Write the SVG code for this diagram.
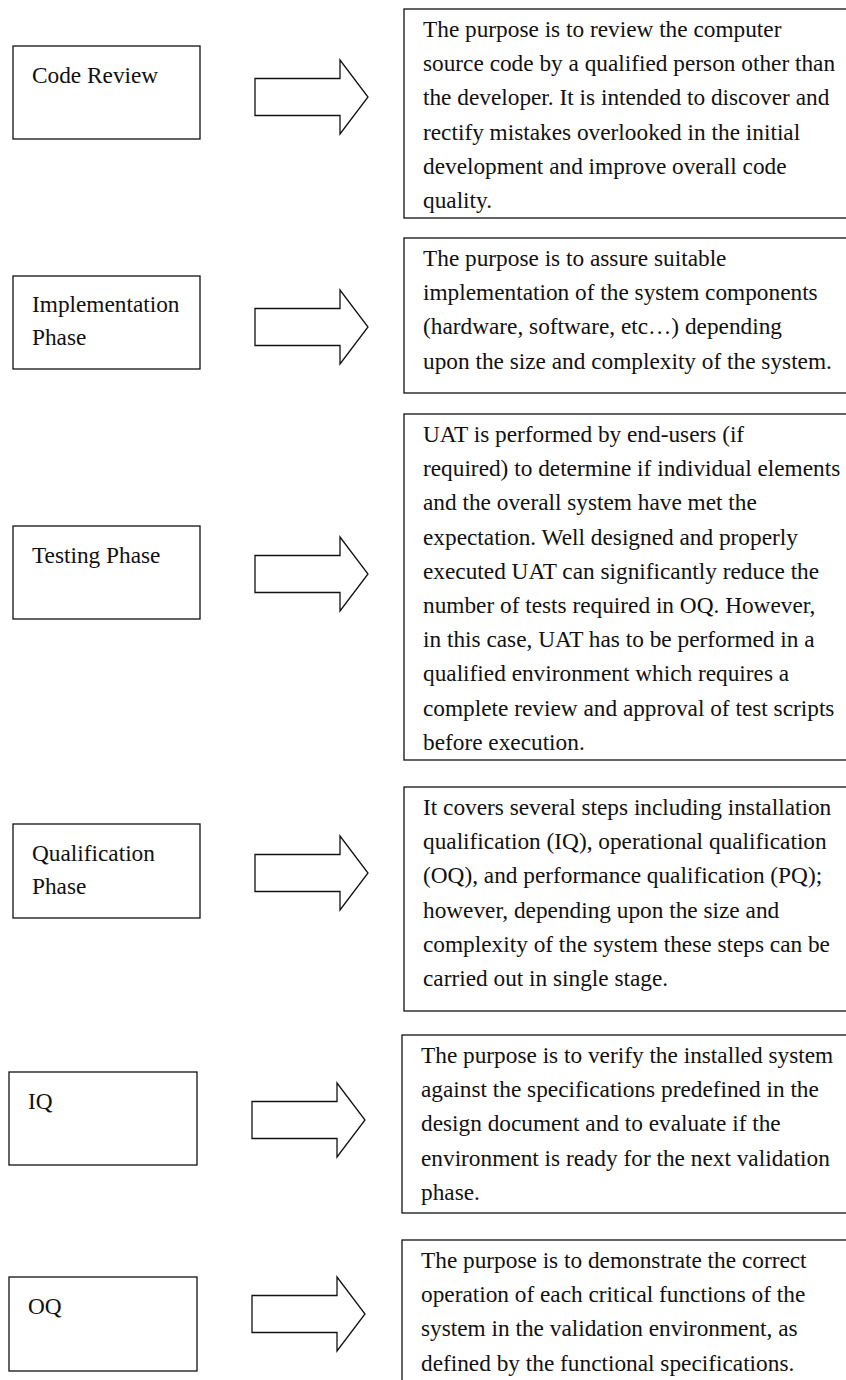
<svg xmlns="http://www.w3.org/2000/svg" width="846" height="1380" viewBox="0 0 846 1380">
<style>
.box{fill:#fff;stroke:#111;stroke-width:1.3}
.arr{fill:#fff;stroke:#111;stroke-width:1.3;stroke-linejoin:miter}
.t{font-family:"Liberation Serif","Times New Roman",serif;font-size:23.3px;fill:#111}
</style>
<rect width="846" height="1380" fill="#fff"/>
<g id="connectors">
<polygon class="arr" points="255,78.5 340,78.5 340,60 368,97 340,134 340,115.5 255,115.5"/>
<polygon class="arr" points="255,308.5 340,308.5 340,290 368,327 340,364 340,345.5 255,345.5"/>
<polygon class="arr" points="255,555.5 340,555.5 340,537 368,574 340,611 340,592.5 255,592.5"/>
<polygon class="arr" points="255,854.5 340,854.5 340,836 368,873 340,910 340,891.5 255,891.5"/>
<polygon class="arr" points="252,1101.5 337,1101.5 337,1083 365,1120 337,1157 337,1138.5 252,1138.5"/>
<polygon class="arr" points="252,1295.5 337,1295.5 337,1277 365,1314 337,1351 337,1332.5 252,1332.5"/>
</g>
<g id="code-review">
<rect class="box" x="13" y="46" width="187" height="93"/>
<text class="t" x="32" y="83">Code Review</text>
</g>
<g id="implementation-phase">
<rect class="box" x="13" y="276" width="187" height="93"/>
<text class="t" x="32" y="312">Implementation</text>
<text class="t" x="32" y="345">Phase</text>
</g>
<g id="testing-phase">
<rect class="box" x="13" y="526" width="187" height="93"/>
<text class="t" x="32" y="563">Testing Phase</text>
</g>
<g id="qualification-phase">
<rect class="box" x="13" y="824" width="187" height="94"/>
<text class="t" x="32" y="861">Qualification</text>
<text class="t" x="32" y="894">Phase</text>
</g>
<g id="iq">
<rect class="box" x="9" y="1072" width="188" height="93"/>
<text class="t" x="28" y="1109">IQ</text>
</g>
<g id="oq">
<rect class="box" x="9" y="1277" width="188" height="94"/>
<text class="t" x="28" y="1314">OQ</text>
</g>
<g id="code-review-desc">
<rect class="box" x="404" y="9" width="446" height="209"/>
<text class="t" x="423" y="37">The purpose is to review the computer<tspan x="423" dy="34.2">source code by a qualified person other than</tspan><tspan x="423" dy="34.2">the developer. It is intended to discover and</tspan><tspan x="423" dy="34.2">rectify mistakes overlooked in the initial</tspan><tspan x="423" dy="34.2">development and improve overall code</tspan><tspan x="423" dy="34.2">quality.</tspan></text>
</g>
<g id="implementation-desc">
<rect class="box" x="404" y="238" width="446" height="155"/>
<text class="t" x="423" y="266">The purpose is to assure suitable<tspan x="423" dy="34.2">implementation of the system components</tspan><tspan x="423" dy="34.2">(hardware, software, etc…) depending</tspan><tspan x="423" dy="34.2">upon the size and complexity of the system.</tspan></text>
</g>
<g id="testing-desc">
<rect class="box" x="404" y="414" width="446" height="346"/>
<text class="t" x="423" y="442">UAT is performed by end-users (if<tspan x="423" dy="34.2">required) to determine if individual elements</tspan><tspan x="423" dy="34.2">and the overall system have met the</tspan><tspan x="423" dy="34.2">expectation. Well designed and properly</tspan><tspan x="423" dy="34.2">executed UAT can significantly reduce the</tspan><tspan x="423" dy="34.2">number of tests required in OQ. However,</tspan><tspan x="423" dy="34.2">in this case, UAT has to be performed in a</tspan><tspan x="423" dy="34.2">qualified environment which requires a</tspan><tspan x="423" dy="34.2">complete review and approval of test scripts</tspan><tspan x="423" dy="34.2">before execution.</tspan></text>
</g>
<g id="qualification-desc">
<rect class="box" x="404" y="787" width="446" height="224"/>
<text class="t" x="423" y="815">It covers several steps including installation<tspan x="423" dy="34.2">qualification (IQ), operational qualification</tspan><tspan x="423" dy="34.2">(OQ), and performance qualification (PQ);</tspan><tspan x="423" dy="34.2">however, depending upon the size and</tspan><tspan x="423" dy="34.2">complexity of the system these steps can be</tspan><tspan x="423" dy="34.2">carried out in single stage.</tspan></text>
</g>
<g id="iq-desc">
<rect class="box" x="402" y="1035" width="448" height="178"/>
<text class="t" x="421" y="1063">The purpose is to verify the installed system<tspan x="421" dy="34.2">against the specifications predefined in the</tspan><tspan x="421" dy="34.2">design document and to evaluate if the</tspan><tspan x="421" dy="34.2">environment is ready for the next validation</tspan><tspan x="421" dy="34.2">phase.</tspan></text>
</g>
<g id="oq-desc">
<rect class="box" x="402" y="1240" width="448" height="150"/>
<text class="t" x="421" y="1268">The purpose is to demonstrate the correct<tspan x="421" dy="34.2">operation of each critical functions of the</tspan><tspan x="421" dy="34.2">system in the validation environment, as</tspan><tspan x="421" dy="34.2">defined by the functional specifications.</tspan></text>
</g>
</svg>
